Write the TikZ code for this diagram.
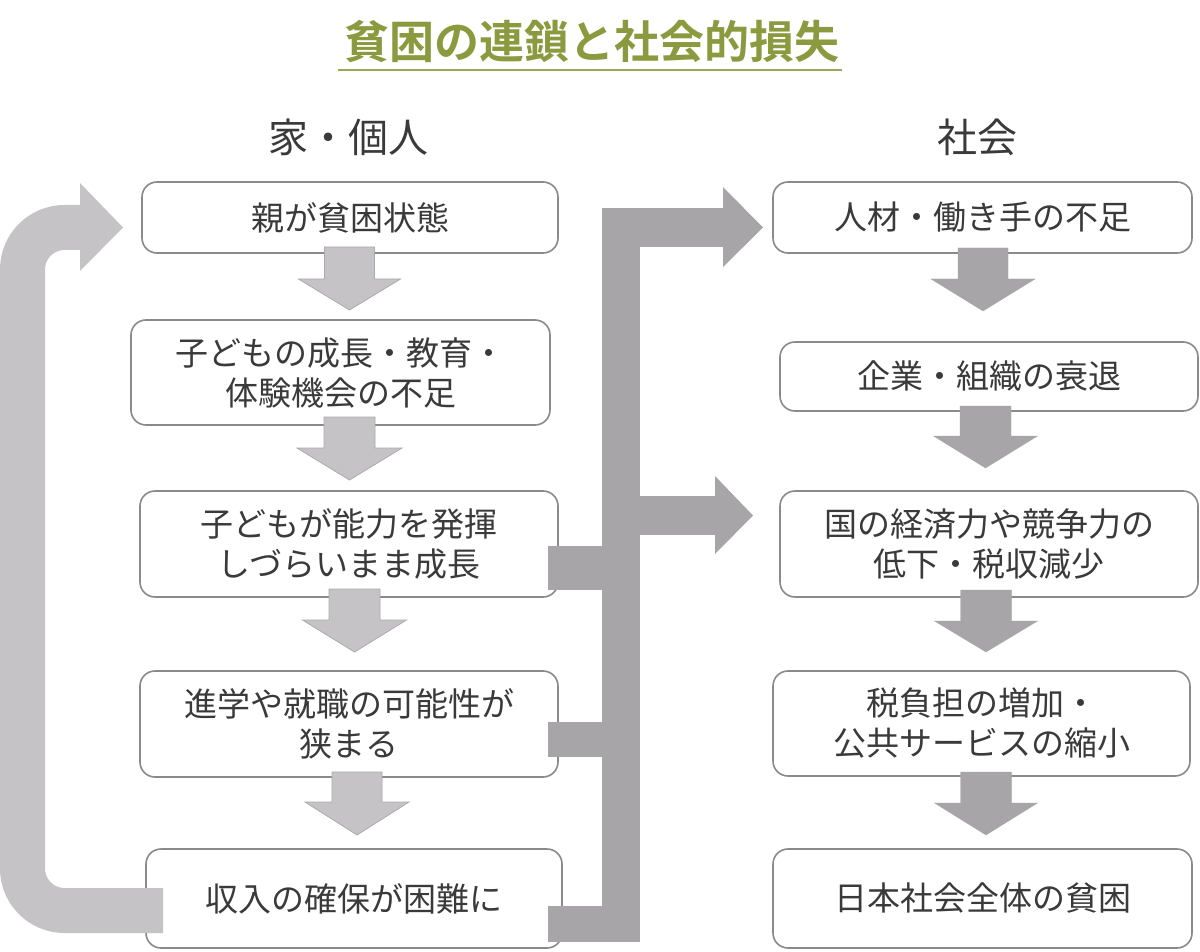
\documentclass[tikz,border=0pt]{standalone}
\usepackage{fontspec}
\setmainfont{Noto Sans CJK JP}
\newfontfamily\jpbold{Noto Sans CJK JP Bold}
\definecolor{olive}{HTML}{8B9A3E}
\definecolor{oliveline}{HTML}{9AA852}
\definecolor{txt}{HTML}{3A3A3A}
\definecolor{boxline}{HTML}{8A8A8A}
\definecolor{lightarrow}{HTML}{C5C3C6}
\definecolor{lightedge}{HTML}{ABAAAD}
\definecolor{darkarrow}{HTML}{A7A5A8}
\newcommand{\dnarrow}[7]{%
  \filldraw[#1] ({#2-#3},#4) -- ({#2+#3},#4) -- ({#2+#3},#5) -- ({#2+#6},#5) -- (#2,#7) -- ({#2-#6},#5) -- ({#2-#3},#5) -- cycle;}
\begin{document}
\begin{tikzpicture}[x=1pt,y=-1pt,
  box/.style={draw=boxline, line width=1.6pt, rounded corners=15pt, fill=white,
    inner sep=0pt, align=center, text=txt, font=\fontsize{33}{40}\selectfont},
  larrow/.style={fill=lightarrow, draw=lightedge, line width=0.8pt},
  rarrow/.style={fill=darkarrow, draw=darkarrow, line width=0.3pt},
  hdr/.style={text=txt, font=\fontsize{40}{44}\selectfont}]
\fill[white] (0,0) rectangle (1200,952);
\useasboundingbox (0,0) rectangle (1200,952);
% title
\node[text=olive, font=\jpbold\fontsize{45}{50}\selectfont] (title) at (592,42) {貧困の連鎖と社会的損失};
\draw[oliveline, line width=2pt] (338,70) -- (842,70);
% headers
\node[hdr] (hL) at (348,137) {家・個人};
\node[hdr] (hR) at (977,137) {社会};
% left boxes
\node[box, minimum width=416pt, minimum height=71pt] (L1) at (350,217.5) {親が貧困状態};
\node[box, minimum width=419pt, minimum height=105pt] (L2) at (340.5,372.5) {子どもの成長・教育・\\体験機会の不足};
\node[box, minimum width=418pt, minimum height=106pt] (L3) at (349,544) {子どもが能力を発揮\\しづらいまま成長};
\node[box, minimum width=418pt, minimum height=106pt] (L4) at (349,724) {進学や就職の可能性が\\狭まる};
\node[box, minimum width=416pt, minimum height=99pt] (L5) at (354,898.5) {収入の確保が困難に};
% right boxes
\node[box, minimum width=419pt, minimum height=71pt] (R1) at (982.5,217.5) {人材・働き手の不足};
\node[box, minimum width=418pt, minimum height=69pt] (R2) at (989,376.5) {企業・組織の衰退};
\node[box, minimum width=418pt, minimum height=106pt] (R3) at (989,544) {国の経済力や競争力の\\低下・税収減少};
\node[box, minimum width=417pt, minimum height=105pt] (R4) at (981.5,723.5) {税負担の増加・\\公共サービスの縮小};
\node[box, minimum width=419pt, minimum height=99pt] (R5) at (982.5,898.5) {日本社会全体の貧困};
% left down arrows
\dnarrow{larrow}{349.5}{25}{247}{279}{51}{310}
\dnarrow{larrow}{349.5}{25.5}{417}{448}{52.5}{480}
\dnarrow{larrow}{354.5}{25.5}{589}{620}{52}{652}
\dnarrow{larrow}{357}{25}{772}{802}{52}{835}
% right down arrows
\dnarrow{rarrow}{983}{25}{248}{279}{52}{311}
\dnarrow{rarrow}{985.5}{25.5}{406}{436}{52}{468}
\dnarrow{rarrow}{986}{25.5}{590}{621}{51.5}{652}
\dnarrow{rarrow}{986}{25.5}{772}{803}{51.5}{835}
% middle connector
\fill[darkarrow] (602,208) rectangle (640,942);
\fill[darkarrow] (602,208) rectangle (723,247);
\fill[darkarrow] (723,187) -- (763,227.5) -- (723,267) -- cycle;
\fill[darkarrow] (640,496) rectangle (715,535);
\fill[darkarrow] (715,476) -- (753,515.5) -- (715,554) -- cycle;
\fill[darkarrow] (548,546) rectangle (602,590);
\fill[darkarrow] (548,722) rectangle (602,757);
\fill[darkarrow] (548,906) rectangle (640,942);
% left loop
\draw[lightarrow, line width=45pt, rounded corners=42pt] (163,910.5) -- (22.5,910.5) -- (22.5,227.5) -- (81,227.5);
\fill[lightarrow] (80,183) -- (123,227.5) -- (80,271) -- cycle;
\end{tikzpicture}
\end{document}
